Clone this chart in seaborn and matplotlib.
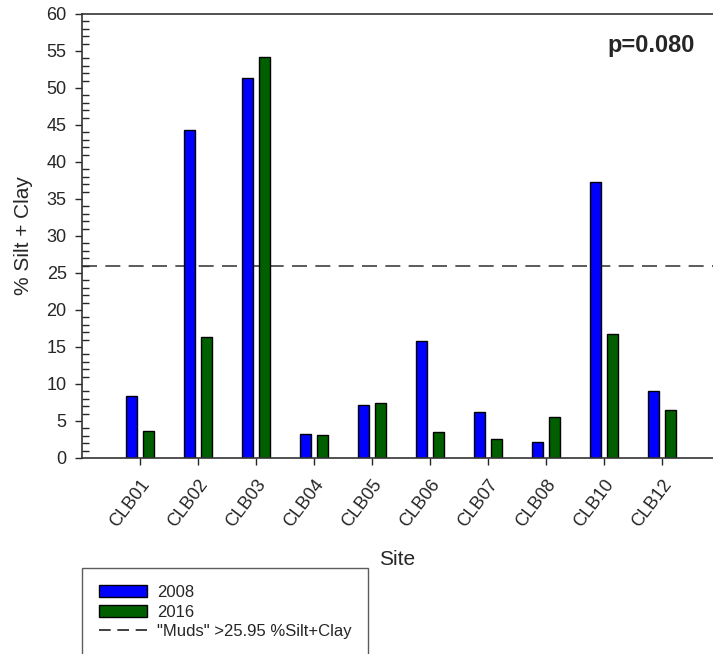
import matplotlib
matplotlib.use("Agg")
import matplotlib.pyplot as plt
from matplotlib.ticker import MultipleLocator
from matplotlib.patches import Patch
from matplotlib.lines import Line2D
import seaborn as sns
import pandas as pd

sites = ["CLB01", "CLB02", "CLB03", "CLB04", "CLB05", "CLB06", "CLB07", "CLB08", "CLB10", "CLB12"]
vals_2008 = [8.4, 44.3, 51.4, 3.2, 7.2, 15.8, 6.2, 2.2, 37.3, 9.0]
vals_2016 = [3.7, 16.3, 54.2, 3.05, 7.4, 3.5, 2.6, 5.5, 16.8, 6.5]
years = ["2008", "2016"]
mud_threshold = 25.95
p_text = "p=0.080"

df = pd.DataFrame({
    "Site": sites * 2,
    "Year": [years[0]] * len(sites) + [years[1]] * len(sites),
    "Value": vals_2008 + vals_2016,
})

sns.set_style("white")
plt.rcParams["font.family"] = ["Liberation Sans", "DejaVu Sans"]

fig = plt.figure(figsize=(7.13, 6.54), dpi=100)
ax = fig.add_axes([0.115, 0.2997, 0.885, 0.6789])

palette = {"2008": "#0000FF", "2016": "#006000"}
sns.barplot(data=df, x="Site", y="Value", hue="Year", order=sites, hue_order=years,
            palette=palette, width=0.6, gap=0.37, edgecolor="black", linewidth=1,
            saturation=1, legend=False, ax=ax)

ax.axhline(mud_threshold, color="#404040", linestyle=(0, (9, 5)), linewidth=1.2, zorder=0.5)

ax.set_xlim(-1, 9.88)
ax.set_ylim(0, 60)
ax.yaxis.set_major_locator(MultipleLocator(5))
ax.yaxis.set_minor_locator(MultipleLocator(1))
ax.tick_params(axis="y", which="major", direction="out", length=5, width=1, labelsize=13, left=True, pad=6)
ax.tick_params(axis="y", which="minor", direction="in", length=5, width=1, left=True)
ax.tick_params(axis="x", which="major", direction="out", length=5, width=1, labelsize=13, bottom=True, pad=8)
for lbl in ax.get_xticklabels():
    lbl.set_rotation(53)
    lbl.set_ha("right")
    lbl.set_rotation_mode("anchor")

for s in ["left", "bottom", "top"]:
    ax.spines[s].set_visible(True)
    ax.spines[s].set_color("#333333")
    ax.spines[s].set_linewidth(1.2)
ax.spines["right"].set_visible(False)

ax.set_ylabel("% Silt + Clay", fontsize=15, labelpad=10)
ax.set_xlabel("Site", fontsize=15, labelpad=14)

ax.text(0.972, 0.93, p_text, transform=ax.transAxes, ha="right", va="center",
        fontsize=17, fontweight="bold")

handles = [
    Patch(facecolor=palette["2008"], edgecolor="black", linewidth=1),
    Patch(facecolor=palette["2016"], edgecolor="black", linewidth=1),
    Line2D([0], [0], color="#202020", linestyle=(0, (7, 4)), linewidth=1.2),
]
labels = ["2008", "2016", "\"Muds\" >25.95 %Silt+Clay"]
leg = fig.legend(handles, labels, loc="upper left", bbox_to_anchor=(0.115, 0.131),
                 bbox_transform=fig.transFigure, fontsize=12, frameon=True,
                 fancybox=False, handlelength=2.9, handleheight=0.7, labelspacing=0.28,
                 borderpad=1.0, handletextpad=0.6, borderaxespad=0)
leg.get_frame().set_edgecolor("#333333")
leg.get_frame().set_linewidth(1)

fig.savefig("out.png", dpi=100)
